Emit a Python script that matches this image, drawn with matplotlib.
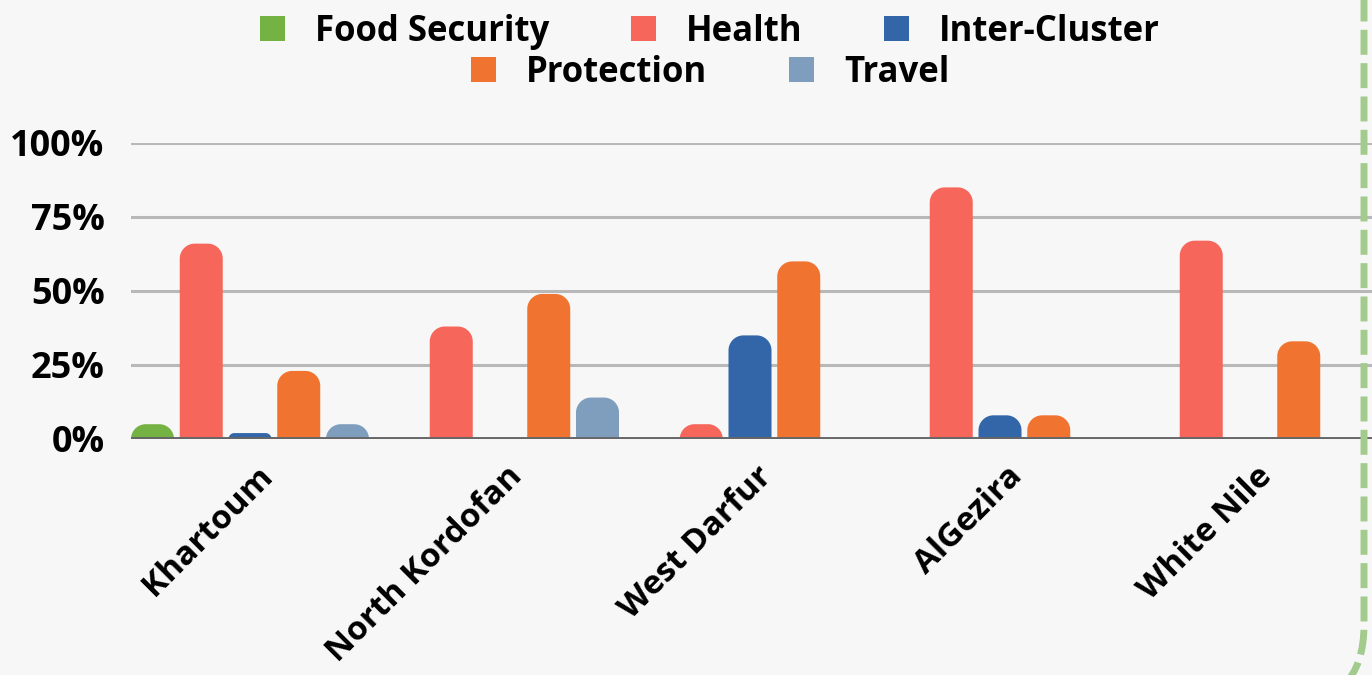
import numpy as np
import matplotlib
matplotlib.use("Agg")
import matplotlib.pyplot as plt
from matplotlib.patches import Polygon, FancyBboxPatch, Patch

# data
states = ["Khartoum", "North Kordofan", "West Darfur", "AlGezira", "White Nile"]
clusters = ["Food Security", "Health", "Inter-Cluster", "Protection", "Travel"]
food_security = [5, 0, 0, 0, 0]
health = [66, 38, 5, 85, 67]
inter_cluster = [2, 0, 35, 8, 0]
protection = [23, 49, 60, 8, 33]
travel = [5, 14, 0, 0, 0]
colors = ["#74B244", "#F6665A", "#3366A8", "#F07430", "#7F9EBE"]

series = [food_security, health, inter_cluster, protection, travel]

plt.rcParams['font.family'] = ['Open Sans', 'DejaVu Sans']
plt.rcParams['font.weight'] = 'bold'

W, H = 1372, 675
fig = plt.figure(figsize=(W / 100, H / 100), dpi=100)
fig.patch.set_facecolor("#F7F7F7")

# axes in pixel terms: left 131, zero at y=439, 100% at y=143, 250 px per group
ax = fig.add_axes([131 / W, (H - 439) / H, 1250 / W, 296 / H])
ax.set_facecolor("none")
ax.set_xlim(-0.5, 4.5)
ax.set_ylim(0, 100)

px_x = 250.0   # pixels per x unit
px_y = 2.96    # pixels per y unit
slot = 0.195
bw = 0.172


def rounded_bar(ax, x0, h, w, color, r=15):
    r_px = min(r, w * px_x / 2, h * px_y)
    rx, ry = r_px / px_x, r_px / px_y
    t1 = np.linspace(np.pi, np.pi / 2, 20)
    t2 = np.linspace(np.pi / 2, 0, 20)
    pts = [(x0, 0), (x0, h - ry)]
    pts += [(x0 + rx + rx * np.cos(t), h - ry + ry * np.sin(t)) for t in t1]
    pts += [(x0 + w - rx + rx * np.cos(t), h - ry + ry * np.sin(t)) for t in t2]
    pts += [(x0 + w, 0)]
    ax.add_patch(Polygon(pts, closed=True, facecolor=color, edgecolor="none", zorder=3))


for j, vals in enumerate(series):
    for i, v in enumerate(vals):
        if v > 0:
            rounded_bar(ax, i - 0.5 + j * slot, v, bw, colors[j])

ax.set_yticks([0, 25, 50, 75, 100])
ax.set_yticklabels(["0%", "25%", "50%", "75%", "100%"], fontsize=26, fontweight='bold')
ax.yaxis.grid(True, color="#B8B8B8", linewidth=2.2, zorder=0)
ax.set_axisbelow(True)
ax.axhline(0, color="#666666", linewidth=2.8, zorder=4)
ax.tick_params(axis='y', length=0, pad=19)
ax.tick_params(axis='x', length=0, pad=15)
ax.set_xticks(range(len(states)))
ax.set_xticklabels(states, rotation=45, ha='right', rotation_mode='anchor',
                   fontsize=24, fontweight='bold')
for s in ax.spines.values():
    s.set_visible(False)

# legend in two centred rows
row1 = [Patch(facecolor=colors[k], label=clusters[k]) for k in range(3)]
row2 = [Patch(facecolor=colors[k], label=clusters[k]) for k in range(3, 5)]
for handles, y in [(row1, 32), (row2, 73)]:
    fig.legend(handles=handles, loc='center', bbox_to_anchor=(710 / W, 1 - y / H),
               ncol=len(handles), frameon=False, fontsize=25,
               handlelength=0.72, handleheight=0.72, handletextpad=0.86,
               columnspacing=2.36, borderpad=0, borderaxespad=0)

# dashed green frame on the right
frame = FancyBboxPatch((-200, -30), 1564, 800, boxstyle="round,pad=0,rounding_size=80",
                       transform=None, facecolor="none", edgecolor="#A3CB8D",
                       linewidth=5, linestyle=(0, (3.6, 1.2)), zorder=10)
fig.patches.append(frame)

fig.savefig("out.png", dpi=100, facecolor=fig.get_facecolor())
